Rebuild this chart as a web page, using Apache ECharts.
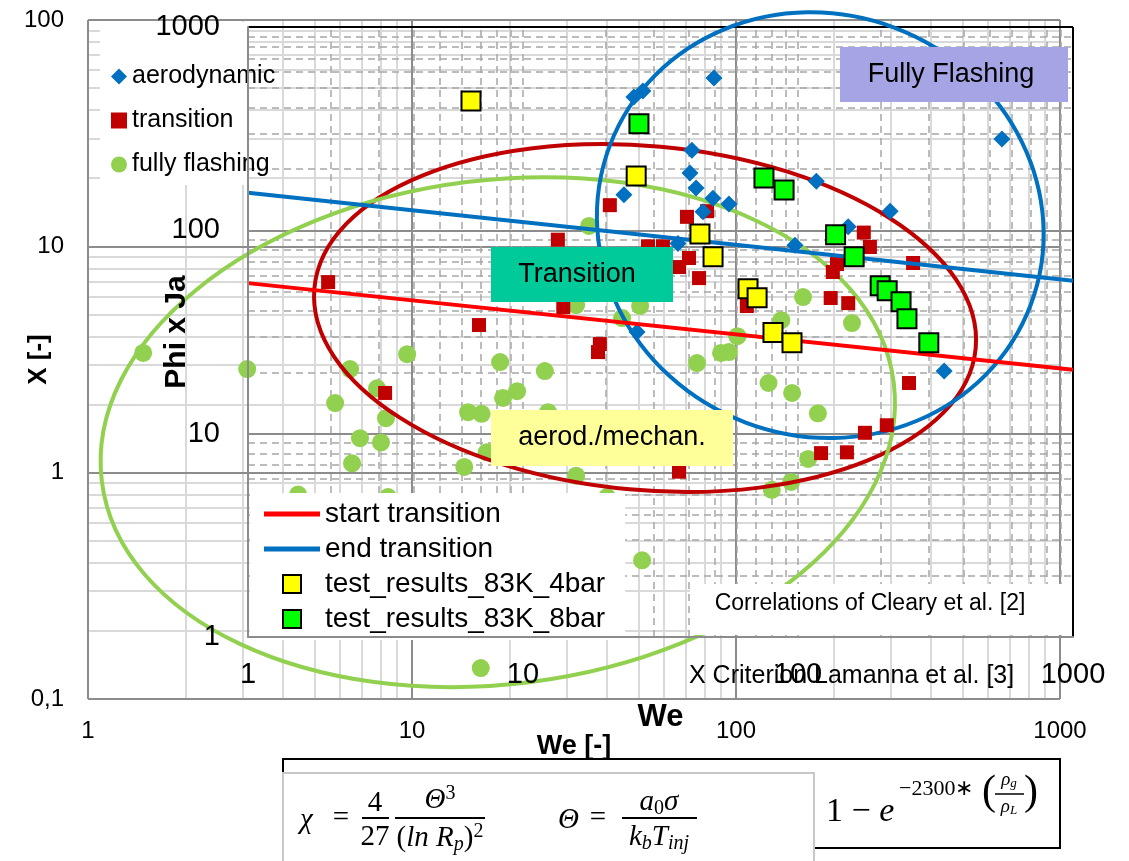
<!DOCTYPE html>
<html>
<head>
<meta charset="utf-8">
<script src="https://cdn.jsdelivr.net/npm/echarts@6/dist/echarts.min.js"></script>
<style>
html,body{margin:0;padding:0;background:#fff}
#main{width:1129px;height:861px}
</style>
</head>
<body>
<div id="main"></div>
<script>
// outer chart : X criterion (Lamanna) vs We
const aerodynamic = [[48.4,45.7],[51.6,48.6],[85.5,55.4],[45.1,16.9],[73.1,26.6],[72.1,21.1],[75.3,18.1],[84.9,16.3],[95.1,15.4],[79.1,14.2],[66.2,10.3],[177,19.4],[222,12.2],[299,14.3],[662,29.8],[439,2.81],[49.5,4.18],[152,10.1]];
const transition = [[5.51,6.95],[16.1,4.49],[8.26,2.25],[28.2,10.7],[29.3,5.39],[40.8,15.2],[70.6,13.5],[81.4,14.3],[53.5,10.0],[59.5,10.0],[71.6,8.88],[66.7,8.10],[76.9,7.24],[108,5.45],[38.0,3.70],[37.5,3.41],[66.7,1.01],[248,11.5],[259,9.93],[352,8.44],[205,8.35],[199,7.70],[196,5.91],[222,5.61],[342,2.49],[292,1.62],[250,1.50],[183,1.22],[220,1.23]];
const fullyFlashing = [[1.48,3.38],[3.10,2.87],[6.44,2.87],[9.66,3.34],[7.80,2.36],[5.79,2.03],[8.31,1.74],[6.91,1.42],[8.02,1.36],[6.53,1.10],[18.7,3.08],[25.7,2.81],[21.1,2.29],[19.1,2.14],[14.9,1.85],[16.4,1.82],[17.0,1.23],[14.5,1.06],[4.45,0.80],[8.43,0.78],[16.3,0.137],[35.2,12.3],[32.1,5.50],[50.6,5.45],[44.5,4.82],[101,4.01],[75.8,3.05],[89.9,3.38],[95.1,3.41],[138,4.72],[126,2.49],[149,2.25],[179,1.83],[167,1.15],[148,0.91],[129,0.84],[32.1,0.97],[40.0,0.78],[51.3,0.41],[161,5.97],[228,4.58],[26.3,1.85]];

// inner chart : Phi x Ja (Cleary) vs We
const test4bar = [[6.47,433],[25.8,185],[44.0,96],[49.1,74.1],[65.8,51.6],[71.0,46.6],[81.1,31.4],[95.1,28.0]];
const test8bar = [[26.4,334],[75.2,181],[89.0,158],[137,95],[160,74.1],[199,53.4],[211,50.4],[237,44.5],[249,36.7],[299,28.0]];
const startTransition = [[1,55],[1000,20.6]];
const endTransition = [[1,153],[1000,56.5]];

// ticks
const weTicks = [1,10,100,1000];
const xTicks = [0.1,1,10,100];
const phiTicks = [1,10,100,1000];

// regime regions (centres, outer chart coordinates)
const regionNames = ['transition','fully flashing','aerodynamic'];
const regionCenters = [[52.4,4.82],[18.4,1.51],[182,12.4]];

const FONT = 'Liberation Sans, Arial, sans-serif';
const SERIF = 'Liberation Serif, Times New Roman, serif';

var chart = echarts.init(document.getElementById('main'), null, {width:1129, height:861});

function minorTicks(lo, hi) {
  var out = [];
  for (var d = lo; d < hi * 0.999; d *= 10) {
    for (var m = 2; m <= 9; m++) out.push(+(m * d).toPrecision(3));
  }
  return out;
}
function vLines(vals, y0, y1) { return vals.map(v => ({coords: [[v, y0], [v, y1]]})); }
function hLines(vals, x0, x1) { return vals.map(v => ({coords: [[x0, v], [x1, v]]})); }
function gridLines(gi, data, color, width, type, z) {
  return {
    type: 'lines', coordinateSystem: 'cartesian2d', xAxisIndex: gi, yAxisIndex: gi,
    silent: true, z: z, data: data, effect: {show: false},
    lineStyle: {color: color, width: width, type: type, opacity: 1}
  };
}
function fmtTick(v) { return String(+(+v).toPrecision(3)).replace('.', ','); }

var LINE_ICON = 'path://M0,0H56V5H0Z';
var SQUARE_ICON = 'path://M0,0H18V18H0Z';

var option = {
  animation: false,
  backgroundColor: '#fff',
  grid: [
    {left: 88, top: 20, right: 69, bottom: 162, containLabel: false, outerBoundsMode: 'none'},
    {left: 248, top: 27, right: 56, bottom: 224, containLabel: false, outerBoundsMode: 'none'}
  ],
  xAxis: [
    {
      gridIndex: 0, type: 'log', logBase: 10, min: 1, max: 1000, z: 12,
      name: 'We [-]', nameLocation: 'middle', nameGap: 34, nameMoveOverlap: false,
      nameTextStyle: {fontFamily: FONT, fontWeight: 'bold', fontSize: 27, color: '#000'},
      axisLine: {show: false}, axisTick: {show: false}, splitLine: {show: false},
      axisLabel: {fontFamily: FONT, fontSize: 24, color: '#000', margin: 20, formatter: fmtTick}
    },
    {
      gridIndex: 1, type: 'log', logBase: 10, min: 1, max: 1000, z: 12,
      name: 'We', nameLocation: 'middle', nameGap: 65, nameMoveOverlap: false,
      nameTextStyle: {fontFamily: FONT, fontWeight: 'bold', fontSize: 31, color: '#000'},
      axisLine: {show: true, onZero: false, lineStyle: {color: '#8c8c8c', width: 2}},
      axisTick: {show: false}, splitLine: {show: false},
      axisLabel: {fontFamily: FONT, fontSize: 29, color: '#000', margin: 23, formatter: fmtTick}
    }
  ],
  yAxis: [
    {
      gridIndex: 0, type: 'log', logBase: 10, min: 0.1, max: 100, z: 12,
      name: 'X [-]', nameLocation: 'middle', nameGap: 36, nameMoveOverlap: false,
      nameTextStyle: {fontFamily: FONT, fontWeight: 'bold', fontSize: 26, color: '#000'},
      axisLine: {show: false}, axisTick: {show: false}, splitLine: {show: false},
      axisLabel: {fontFamily: FONT, fontSize: 24, color: '#000', margin: 24, formatter: fmtTick}
    },
    {
      gridIndex: 1, type: 'log', logBase: 10, min: 1, max: 1000, z: 12,
      name: 'Phi x Ja', nameLocation: 'middle', nameGap: 56, nameMoveOverlap: false,
      nameTextStyle: {fontFamily: FONT, fontWeight: 'bold', fontSize: 30, color: '#000'},
      axisLine: {show: true, onZero: false, lineStyle: {color: '#8c8c8c', width: 2}},
      axisTick: {show: false}, splitLine: {show: false},
      axisLabel: {fontFamily: FONT, fontSize: 29, color: '#000', margin: 28, formatter: fmtTick}
    }
  ],
  legend: [
    {
      data: ['aerodynamic', 'transition', 'fully flashing'],
      orient: 'vertical', left: 106, top: 59, itemGap: 19, itemWidth: 16, itemHeight: 16,
      selectedMode: false, z: 12,
      textStyle: {fontFamily: FONT, fontSize: 25, color: '#000'}
    },
    {
      data: [
        {name: 'start transition', icon: LINE_ICON},
        {name: 'end transition', icon: LINE_ICON},
        {name: 'test_results_83K_4bar', icon: SQUARE_ICON},
        {name: 'test_results_83K_8bar', icon: SQUARE_ICON}
      ],
      orient: 'vertical', left: 250, top: 493, itemGap: 7, itemWidth: 56, itemHeight: 18,
      symbolKeepAspect: true,
      padding: [7, 20, 7, 14], backgroundColor: '#fff',
      selectedMode: false, z: 12,
      textStyle: {fontFamily: FONT, fontSize: 28, color: '#000'}
    }
  ],
  series: [
    // outer grid
    gridLines(0, vLines(minorTicks(1, 1000), 0.1, 100).concat(hLines(minorTicks(0.1, 100), 1, 1000)), '#d9d9d9', 2, 'solid', 1),
    gridLines(0, vLines(weTicks, 0.1, 100).concat(hLines(xTicks, 1, 1000)), '#8c8c8c', 2, 'solid', 2),
    // inner grid
    gridLines(1, vLines(minorTicks(1, 1000).concat([10, 100]), 1, 1000).concat(hLines(minorTicks(1, 1000), 1, 1000)), '#a6a6a6', 1.5, [7, 5], 3),
    gridLines(1, hLines([10, 100], 1, 1000), '#8c8c8c', 2, 'solid', 4),
    gridLines(1, [{coords: [[1, 1000], [1000, 1000]]}, {coords: [[1000, 1], [1000, 1000]]}], '#000', 2, 'solid', 4),
    {
      name: 'fully flashing', type: 'scatter', xAxisIndex: 0, yAxisIndex: 0, z: 6,
      symbol: 'circle', symbolSize: 18, itemStyle: {color: '#92D050', opacity: 1},
      data: fullyFlashing
    },
    {
      name: 'transition', type: 'scatter', xAxisIndex: 0, yAxisIndex: 0, z: 8,
      symbol: 'rect', symbolSize: 14, itemStyle: {color: '#C00000', opacity: 1},
      data: transition
    },
    {
      name: 'aerodynamic', type: 'scatter', xAxisIndex: 0, yAxisIndex: 0, z: 8,
      symbol: 'diamond', symbolSize: 17, itemStyle: {color: '#0070C0', opacity: 1},
      data: aerodynamic
    },
    {
      name: 'start transition', type: 'line', xAxisIndex: 1, yAxisIndex: 1, z: 9,
      symbol: 'none', lineStyle: {color: '#FF0000', width: 4}, itemStyle: {color: '#FF0000'},
      data: startTransition
    },
    {
      name: 'end transition', type: 'line', xAxisIndex: 1, yAxisIndex: 1, z: 9,
      symbol: 'none', lineStyle: {color: '#0070C0', width: 4}, itemStyle: {color: '#0070C0'},
      data: endTransition
    },
    {
      name: 'test_results_83K_4bar', type: 'scatter', xAxisIndex: 1, yAxisIndex: 1, z: 10,
      symbol: 'rect', symbolSize: 19,
      itemStyle: {color: '#FFFF00', borderColor: '#000', borderWidth: 2, opacity: 1},
      data: test4bar
    },
    {
      name: 'test_results_83K_8bar', type: 'scatter', xAxisIndex: 1, yAxisIndex: 1, z: 10,
      symbol: 'rect', symbolSize: 19,
      itemStyle: {color: '#00FF00', borderColor: '#000', borderWidth: 2, opacity: 1},
      data: test8bar
    }
  ]
};
chart.setOption(option);

// ---- shapes and annotations, placed once the axes exist ----
var regionColors = ['#C00000', '#92D050', '#0070C0'];
var regionRadii = [[332, 172], [399, 252], [225, 211]];
var regionTilt = [-5.2, 7.1, -20.7]; // degrees, + = anticlockwise

function txt(x, y, text, size, extra) {
  var st = Object.assign({text: text, fontFamily: FONT, fontSize: size, fill: '#000',
    align: 'center', verticalAlign: 'middle'}, extra || {});
  return {type: 'text', x: x, y: y, z: 11, style: st};
}
function box(x, y, w, h, fill, stroke, z) {
  return {type: 'rect', z: z || 11, shape: {x: x, y: y, width: w, height: h},
    style: {fill: fill, stroke: stroke || null, lineWidth: stroke ? 2 : 0}};
}
function bar(x1, x2, y) {
  return {type: 'line', z: 11, shape: {x1: x1, y1: y, x2: x2, y2: y}, style: {stroke: '#000', lineWidth: 2}};
}
var mathRich = {
  v: {fontFamily: SERIF, fontStyle: 'italic', fontSize: 29, verticalAlign: 'middle'},
  n: {fontFamily: SERIF, fontSize: 29, verticalAlign: 'middle'},
  sub: {fontFamily: SERIF, fontStyle: 'italic', fontSize: 20, padding: [13, 0, 0, 0], verticalAlign: 'middle'},
  nsub: {fontFamily: SERIF, fontSize: 20, padding: [13, 0, 0, 0], verticalAlign: 'middle'},
  sup: {fontFamily: SERIF, fontSize: 20, padding: [0, 0, 13, 0], verticalAlign: 'middle'}
};
function mtxt(x, y, text, align) {
  return {type: 'text', x: x, y: y, z: 11,
    style: {text: text, rich: mathRich, fill: '#000', align: align || 'center', verticalAlign: 'middle'}};
}

var g = [];
// white box behind the outer legend
g.push(box(100, 22, 148, 163, '#fff', null, 5));
// regime ellipses
regionCenters.forEach(function (c, i) {
  var p = chart.convertToPixel({gridIndex: 0}, c);
  g.push({
    type: 'ellipse', z: 7, x: p[0], y: p[1], rotation: regionTilt[i] * Math.PI / 180,
    shape: {cx: 0, cy: 0, rx: regionRadii[i][0], ry: regionRadii[i][1]},
    style: {fill: 'none', stroke: regionColors[i], lineWidth: 4}
  });
});
// region labels
g.push(box(840, 47, 228, 55, '#A5A5E5'));
g.push(txt(951, 75, 'Fully Flashing', 27));
g.push(box(491, 247, 182, 55, '#00C99A'));
g.push(txt(577, 275, 'Transition', 27));
g.push(box(491, 410, 242, 56, '#FFFF99'));
g.push(txt(612, 438, 'aerod./mechan.', 27));
// correlation notes
g.push(box(690, 584, 378, 51, '#fff'));
g.push(txt(870, 604, 'Correlations of Cleary et al. [2]', 23));
g.push(txt(689, 676, 'X Criterion Lamanna et al. [3]', 25, {align: 'left'}));

// formula panel
g.push({type: 'rect', z: 11, shape: {x: 283, y: 759, width: 777, height: 89}, style: {fill: '#fff', stroke: '#000', lineWidth: 2}});
g.push({type: 'rect', z: 11, shape: {x: 283, y: 773, width: 531, height: 100}, style: {fill: '#fff', stroke: '#c8c8c8', lineWidth: 2}});
g.push(mtxt(300, 820, '{v|χ}', 'left'));
g.push(mtxt(341, 818, '{n|=}'));
g.push(mtxt(375, 803, '{n|4}'));
g.push(bar(362, 389, 818));
g.push(mtxt(375, 837, '{n|27}'));
g.push(mtxt(440, 800, '{v|Θ}{sup|3}'));
g.push(bar(395, 485, 818));
g.push(mtxt(440, 838, '{n|(}{v|ln R}{sub|p}{n|)}{sup|2}'));
g.push(mtxt(558, 820, '{v|Θ}', 'left'));
g.push(mtxt(598, 818, '{n|=}'));
g.push(mtxt(659, 802, '{v|a}{nsub|0}{v|σ}'));
g.push(bar(622, 697, 818));
g.push(mtxt(659, 837, '{v|k}{sub|b}{v|T}{sub|inj}'));
g.push({type: 'text', x: 826, y: 812, z: 11, style: {
  text: '{n|1 − }{v|e}', fill: '#000', align: 'left', verticalAlign: 'middle',
  rich: {n: {fontFamily: SERIF, fontSize: 34}, v: {fontFamily: SERIF, fontSize: 34, fontStyle: 'italic'}}}});
g.push({type: 'text', x: 899, y: 789, z: 11, style: {
  text: '−2300∗', fill: '#000', fontFamily: SERIF, fontSize: 22, align: 'left', verticalAlign: 'middle'}});
g.push({type: 'text', x: 982, y: 793, z: 11, style: {
  text: '(', fill: '#000', fontFamily: SERIF, fontSize: 42, align: 'left', verticalAlign: 'middle'}});
g.push({type: 'text', x: 1024, y: 793, z: 11, style: {
  text: ')', fill: '#000', fontFamily: SERIF, fontSize: 42, align: 'left', verticalAlign: 'middle'}});
g.push({type: 'text', x: 1009, y: 780, z: 11, style: {
  text: '{v|ρ}{s|g}', fill: '#000', align: 'center', verticalAlign: 'middle',
  rich: {v: {fontFamily: SERIF, fontStyle: 'italic', fontSize: 19, verticalAlign: 'middle'},
         s: {fontFamily: SERIF, fontStyle: 'italic', fontSize: 13, padding: [8, 0, 0, 0], verticalAlign: 'middle'}}}});
g.push({type: 'line', z: 11, shape: {x1: 995, y1: 794, x2: 1024, y2: 794}, style: {stroke: '#000', lineWidth: 1.5}});
g.push({type: 'text', x: 1009, y: 807, z: 11, style: {
  text: '{v|ρ}{s|L}', fill: '#000', align: 'center', verticalAlign: 'middle',
  rich: {v: {fontFamily: SERIF, fontStyle: 'italic', fontSize: 19, verticalAlign: 'middle'},
         s: {fontFamily: SERIF, fontStyle: 'italic', fontSize: 13, padding: [8, 0, 0, 0], verticalAlign: 'middle'}}}});

chart.setOption({graphic: {elements: g}});
</script>
</body>
</html>
